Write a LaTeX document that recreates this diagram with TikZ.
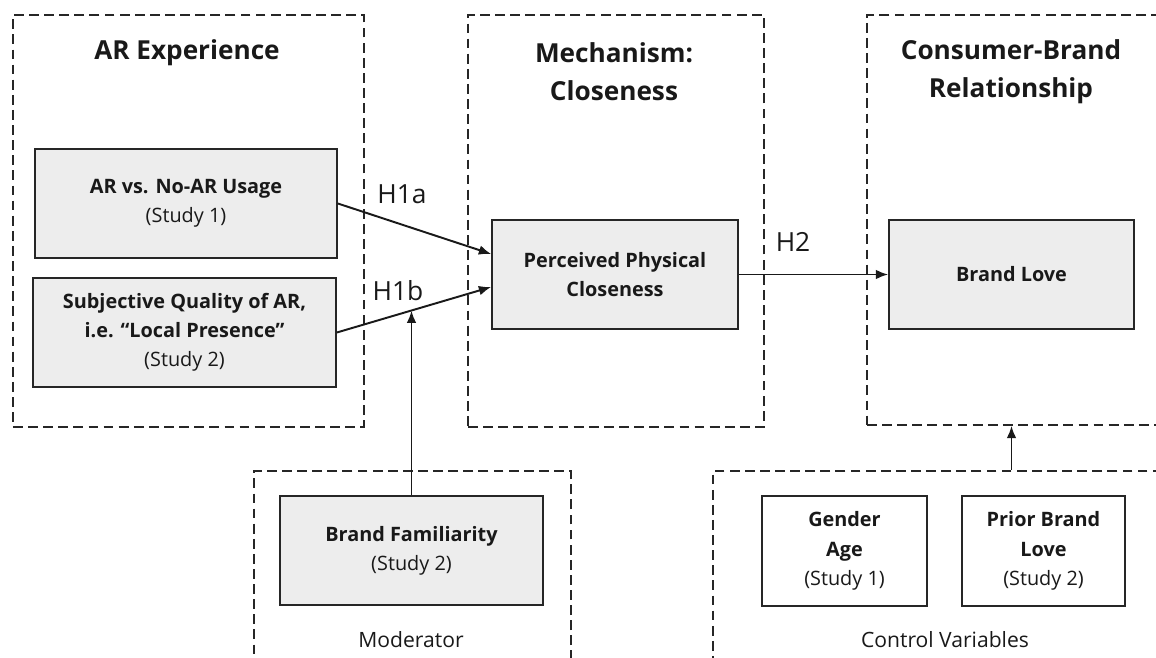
\documentclass[tikz,border=0pt]{standalone}
\usepackage{fontspec}
\setmainfont{Open Sans}
\usetikzlibrary{arrows.meta,calc}

\tikzset{
  frame/.style={draw=black!85, line width=1.1pt, dash pattern=on 5.6pt off 3pt,
    anchor=north west, inner sep=0pt},
  title/.style={font=\fontsize{14.9}{21.5}\selectfont\bfseries, align=center, text=black!90},
  var/.style={draw=black!85, fill=black!7, line width=1pt, minimum height=2.18cm,
    align=center, text=black!90, font=\fontsize{11.3}{16.6}\selectfont},
  ctl/.style={var, fill=white, minimum height=2.2cm},
  hyp/.style={font=\fontsize{15}{17}\selectfont, text=black!90},
  note/.style={font=\fontsize{12}{14}\selectfont, text=black!90},
  arr/.style={-{Latex[length=7pt,width=5.5pt]}, line width=1.1pt, draw=black!90},
}

\begin{document}
\begin{tikzpicture}[x=0.02cm, y=-0.02cm]
  \useasboundingbox[fill=white] (0,0) rectangle (1156,658);
  \clip (0,0) rectangle (1156,658);

  % dashed groups
  \node[frame, minimum width=7.02cm, minimum height=8.24cm] (are) at (12,14) {};
  \node[frame, minimum width=5.92cm, minimum height=8.24cm] (mech) at (467,14) {};
  \node[frame, minimum width=6.4cm, minimum height=8.2cm] (cbr) at (866,14) {};
  \node[frame, minimum width=6.34cm, minimum height=4.4cm] (modf) at (253,470) {};
  \node[frame, minimum width=9.4cm, minimum height=4.4cm] (ctrl) at (712,470) {};

  \node[title] (t1) at (187,53) {AR Experience};
  \node[title] (t2) at (614,72) {Mechanism:\\Closeness};
  \node[title] (t3) at (1011,72) {Consumer-Brand\\Relationship};

  % variables
  \node[var, minimum width=6.04cm] (arvs) at (186,203.5)
    {\textbf{AR vs. No-AR Usage}\\(Study 1)};
  \node[var, minimum width=6.06cm] (subj) at (184.5,332.5)
    {\textbf{Subjective Quality of AR,}\\\textbf{i.e. “Local Presence”}\\(Study 2)};
  \node[var, minimum width=4.92cm] (ppc) at (615,274.5)
    {\textbf{Perceived Physical}\\\textbf{Closeness}};
  \node[var, minimum width=4.9cm] (bl) at (1011.5,274.5) {\textbf{Brand Love}};
  \node[var, minimum width=5.26cm] (fam) at (411.5,550.5)
    {\textbf{Brand Familiarity}\\(Study 2)};
  \node[ctl, minimum width=3.3cm] (gen) at (844.5,551)
    {\textbf{Gender}\\\textbf{Age}\\(Study 1)};
  \node[ctl, minimum width=3.26cm] (pbl) at (1043.5,551)
    {\textbf{Prior Brand}\\\textbf{Love}\\(Study 2)};

  \node[note] (modl) at (411,640) {Moderator};
  \node[note] (ctll) at (945,640) {Control Variables};

  % paths
  \coordinate (in1) at ($(ppc.west)+(0,-20.5)$);
  \coordinate (in2) at ($(ppc.west)+(0,12.5)$);
  \draw[arr] (arvs.east) -- (in1);
  \draw[arr] (subj.east) -- (in2) coordinate[pos=0.48] (mod);
  \draw[arr] (ppc.east) -- (bl.west);
  \draw[arr] (fam.north) -- (fam.north |- mod);
  \draw[arr] (ctrl.north -| bl) -- (cbr.south -| bl);

  \node[hyp] (h1a) at (402,194) {H1a};
  \node[hyp] (h1b) at (398,291) {H1b};
  \node[hyp] (h2) at (793,242) {H2};
\end{tikzpicture}
\end{document}
